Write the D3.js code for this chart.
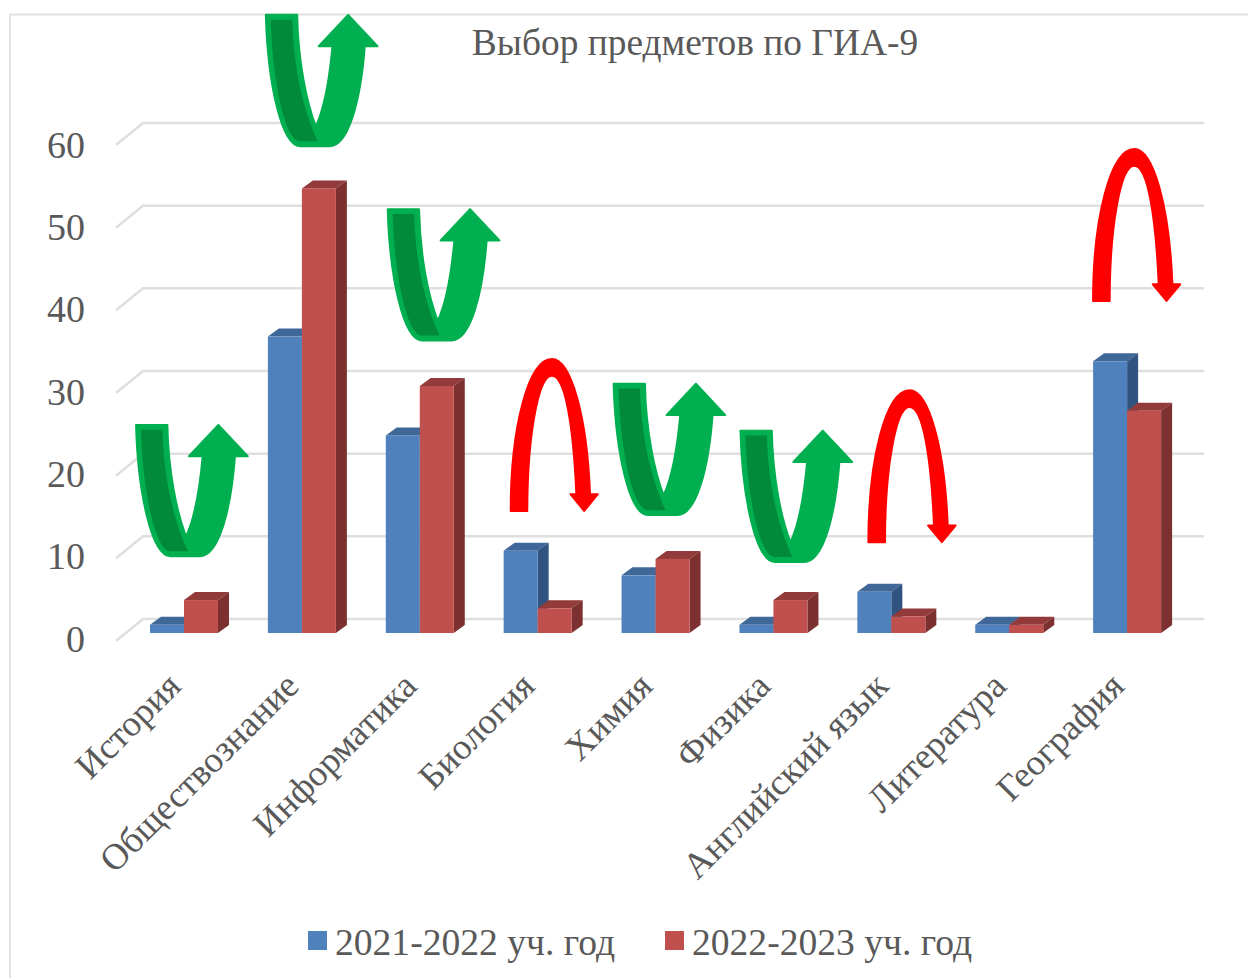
<!DOCTYPE html>
<html lang="ru">
<head>
    <meta charset="UTF-8">
    <title>Выбор предметов по ГИА-9</title>
    <script src="https://cdn.jsdelivr.net/npm/d3@7"></script>
    <style>
        html, body { margin: 0; padding: 0; background: #fff; }
        svg { display: block; }
        text { font-family: "Liberation Serif", serif; fill: #595959; }
    </style>
</head>
<body>
<script>
    var categories = ["История", "Обществознание", "Информатика", "Биология", "Химия", "Физика", "Английский язык", "Литература", "География"];
    var seriesNames = ["2021-2022 уч. год", "2022-2023 уч. год"];
    var values2022 = [1, 36, 24, 10, 7, 1, 5, 1, 33];
    var values2023 = [4, 54, 30, 3, 9, 4, 2, 1, 27];
    var yTicks = [0, 10, 20, 30, 40, 50, 60];
    // top of each turn arrow on the value axis, and its shift inside the category band
    var arrowTops = [25.4, 75.2, 51.6, 33.4, 30.4, 24.7, 29.6, null, 58.9];
    var arrowShifts = [0.085, 0.186, 0.22, 0.263, 0.136, 0.212, 0.297, null, 0.203];

    var width = 1248, height = 978;
    var depthX = 11, depthY = 8;

    var svg = d3.select("body").append("svg")
        .attr("width", width)
        .attr("height", height);

    // frame of the pasted chart
    svg.append("path")
        .attr("d", d3.line()([[10, height], [10, 14.5], [width, 14.5]]))
        .attr("fill", "none")
        .attr("stroke", "#e2e2e2")
        .attr("stroke-width", 2);

    var x = d3.scaleBand().domain(categories).range([125, 1186]);
    var xInner = d3.scaleBand().domain([0, 1]).range([25, 93]);
    var y = d3.scaleLinear().domain([0, 60]).range([633, 139]);
    var yBack = d3.scaleLinear().domain([0, 60]).range([619, 123]);

    // gridlines on back wall and floor
    var grid = svg.append("g")
        .attr("fill", "none")
        .attr("stroke", "#dfdfdf")
        .attr("stroke-width", 2.5);
    grid.selectAll("path")
        .data(yTicks)
        .enter()
        .append("path")
        .attr("d", function(d) {
            return d3.line()([[116, yBack(d) + 22], [143, yBack(d)], [1204, yBack(d)]]);
        });

    var yAxis = d3.axisLeft(y).tickValues(yTicks).tickSize(0).tickPadding(0);
    var yG = svg.append("g")
        .attr("transform", "translate(85,6)")
        .call(yAxis);
    yG.select(".domain").remove();
    yG.selectAll("text")
        .style("font-family", "'Liberation Serif', serif")
        .style("font-size", "38px")
        .style("fill", "#595959");

    var xAxis = d3.axisBottom(x).tickSize(0).tickPadding(0);
    var xG = svg.append("g")
        .attr("transform", "translate(0,633)")
        .call(xAxis);
    xG.select(".domain").remove();
    xG.selectAll("text")
        .attr("text-anchor", "end")
        .attr("dy", null)
        .attr("y", 0)
        .attr("transform", "translate(-1,55) rotate(-45)")
        .style("font-family", "'Liberation Serif', serif")
        .style("font-size", "36.6px")
        .style("fill", "#595959");

    var colors = [
        {front: "#4f81bd", top: "#3f6797", side: "#30547f"},
        {front: "#c0504d", top: "#923b3a", side: "#7c302f"}
    ];

    function drawBar(g, cat, s, v) {
        var x0 = x(cat) + xInner(s);
        var x1 = x0 + xInner.bandwidth();
        var yTop = y(v), yBase = y(0);
        var line = d3.line();
        g.append("path")
            .attr("fill", colors[s].top)
            .attr("d", line([[x0, yTop], [x0 + depthX, yTop - depthY], [x1 + depthX, yTop - depthY], [x1, yTop]]) + "Z");
        g.append("path")
            .attr("fill", colors[s].side)
            .attr("d", line([[x1, yTop], [x1 + depthX, yTop - depthY], [x1 + depthX, yBase - depthY], [x1, yBase]]) + "Z");
        g.append("rect")
            .attr("fill", colors[s].front)
            .attr("x", x0)
            .attr("y", yTop)
            .attr("width", x1 - x0)
            .attr("height", yBase - yTop);
    }

    var bars = svg.append("g");
    categories.forEach(function(cat, i) {
        drawBar(bars, cat, 0, values2022[i]);
        drawBar(bars, cat, 1, values2023[i]);
    });

    // turn arrows: green when the count went up, red when it went down
    var greenShape = "M0,0 L32,0 C33,50 42,90 51,114 C60,95 65,65 68,32 L54,32 L84,0 L114,32 L101,32 C97,85 85,134 65,134 L35,134 C16,134 2,70 0,0 Z";
    var greenBand = "M5,5 L27,5 C28,50 37,95 53,129 L35,129 C20,129 7,70 5,5 Z";
    var redShape = "M0,155 C0,70 18,0 42,0 C62,0 78,60 81,138 L89,138 L75,155 L61,138 L67,138 C64,70 56,17 42,17 C28,17 17,80 17,155 Z";

    var arrows = svg.append("g");
    categories.forEach(function(cat, i) {
        if (arrowTops[i] === null) return;
        var up = values2023[i] > values2022[i];
        var g = arrows.append("g")
            .attr("transform", "translate(" + (x(cat) + arrowShifts[i] * x.step() + 1) + "," + (y(arrowTops[i]) + 1) + ") scale(0.98)");
        var col = up ? "#00b050" : "#ff0000";
        g.append("path")
            .attr("d", up ? greenShape : redShape)
            .attr("fill", col)
            .attr("stroke", col)
            .attr("stroke-width", 2)
            .attr("stroke-linejoin", "round");
        if (up) {
            g.append("path").attr("d", greenBand).attr("fill", "#008a3a");
        }
    });

    svg.append("text")
        .attr("x", 695)
        .attr("y", 55)
        .attr("text-anchor", "middle")
        .style("font-size", "37.4px")
        .text("Выбор предметов по ГИА-9");

    // legend
    var legendX = [308, 665];
    var legend = svg.append("g");
    seriesNames.forEach(function(name, s) {
        legend.append("rect")
            .attr("x", legendX[s])
            .attr("y", 931)
            .attr("width", 19)
            .attr("height", 19)
            .attr("fill", colors[s].front);
        legend.append("text")
            .attr("x", legendX[s] + 27)
            .attr("y", 955)
            .style("font-size", "37.6px")
            .text(name);
    });
</script>
</body>
</html>
